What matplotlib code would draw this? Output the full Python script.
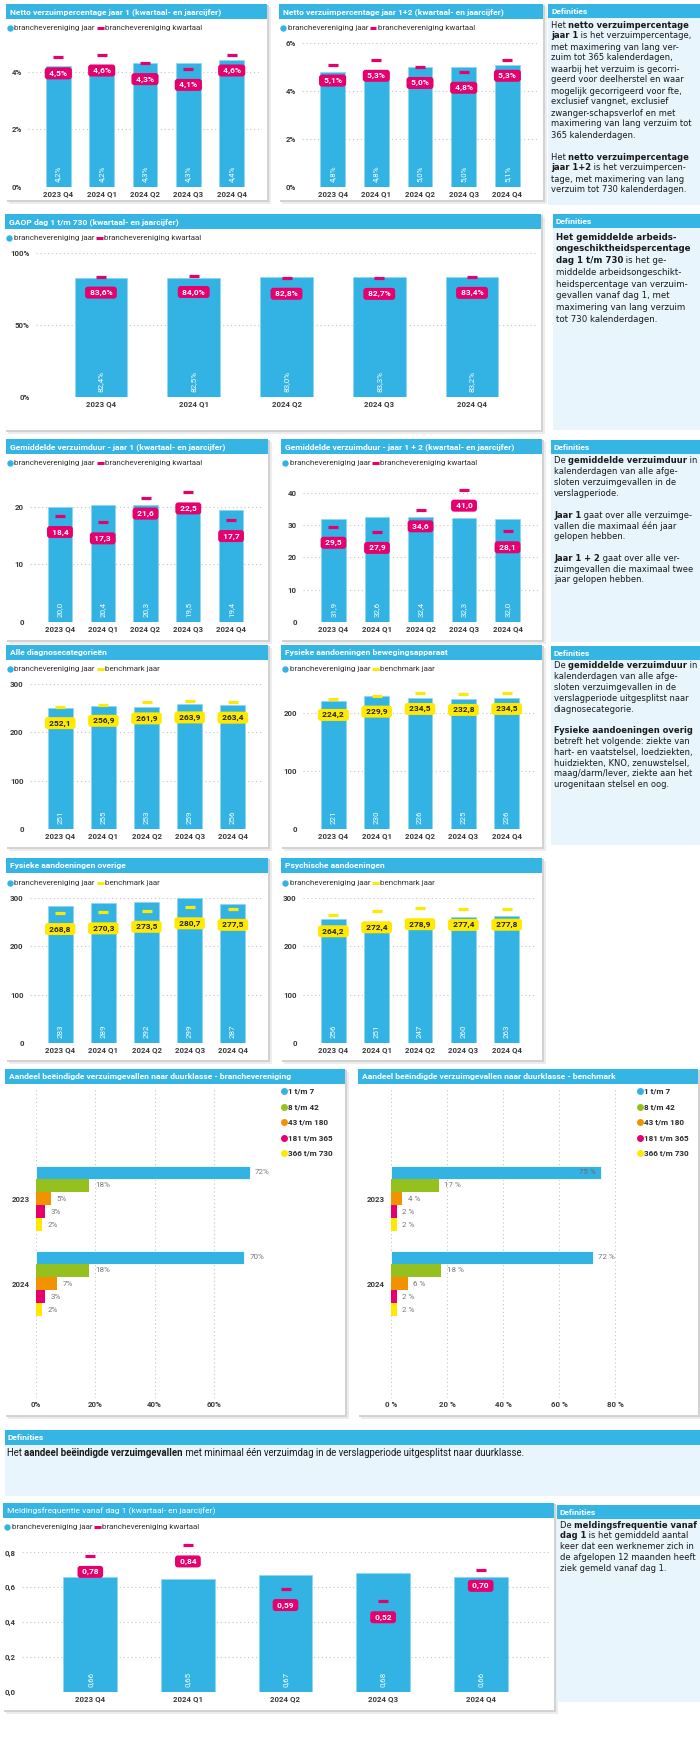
import numpy as np
import matplotlib
matplotlib.use("Agg")
import matplotlib.pyplot as plt
from matplotlib.patches import Rectangle
from matplotlib.lines import Line2D

W, H = 700, 1750
BLUE = "#35b5e4"
BAR = "#33b3e3"
PINK = "#e5006e"
YELLOW = "#ffe900"
GREEN = "#95c11f"
ORANGE = "#f39200"
PANEL_BG = "#e8f5fc"
DARK = "#333333"
GRID = "#c4c4c4"
CHART_FONT = ["Roboto", "DejaVu Sans"]
DEF_FONT = ["DejaVu Sans"]

# --- data ---
quarters = ["2023 Q4", "2024 Q1", "2024 Q2", "2024 Q3", "2024 Q4"]
netto1_jaar = [4.2, 4.2, 4.3, 4.3, 4.4]
netto1_kw = [4.5, 4.6, 4.3, 4.1, 4.6]
netto12_jaar = [4.8, 4.8, 5.0, 5.0, 5.1]
netto12_kw = [5.1, 5.3, 5.0, 4.8, 5.3]
gaop_jaar = [82.4, 82.5, 83.0, 83.3, 83.2]
gaop_kw = [83.6, 84.0, 82.8, 82.7, 83.4]
duur1_jaar = [20.0, 20.4, 20.3, 19.5, 19.4]
duur1_kw = [18.4, 17.3, 21.6, 22.5, 17.7]
duur12_jaar = [31.9, 32.6, 32.4, 32.3, 32.0]
duur12_kw = [29.5, 27.9, 34.6, 41.0, 28.1]
alle_jaar = [251, 255, 253, 259, 256]
alle_bm = [252.1, 256.9, 261.9, 263.9, 263.4]
beweg_jaar = [221, 230, 226, 225, 226]
beweg_bm = [224.2, 229.9, 234.5, 232.8, 234.5]
overig_jaar = [283, 289, 292, 299, 287]
overig_bm = [268.8, 270.3, 273.5, 280.7, 277.5]
psych_jaar = [256, 251, 247, 260, 263]
psych_bm = [264.2, 272.4, 278.9, 277.4, 277.8]
melding_jaar = [0.66, 0.65, 0.67, 0.68, 0.66]
melding_kw = [0.78, 0.84, 0.59, 0.52, 0.70]

duur_classes = ["1 t/m 7", "8 t/m 42", "43 t/m 180", "181 t/m 365", "366 t/m 730"]
duur_colors = [BAR, GREEN, ORANGE, PINK, YELLOW]
years = ["2023", "2024"]
branche_share = [[72, 18, 5, 3, 2], [70, 18, 7, 3, 2]]
bench_share = [[75, 17, 4, 2, 2], [72, 18, 6, 2, 2]]

fig = plt.figure(figsize=(7, 17.5), dpi=100)
fig.patch.set_facecolor("white")
renderer = fig.canvas.get_renderer()


def fx(x):
    return x / W


def fy(y):
    return 1 - y / H


def rect(x0, y0, x1, y1, color, z=-5):
    fig.add_artist(Rectangle((fx(x0), fy(y1)), (x1 - x0) / W, (y1 - y0) / H,
                             transform=fig.transFigure, facecolor=color,
                             edgecolor="none", zorder=z))


def ftext(x, y, s, **kw):
    kw.setdefault("va", "center")
    kw.setdefault("family", CHART_FONT)
    return fig.text(fx(x), fy(y), s, **kw)


def seg_width(s, **kw):
    t1 = fig.text(0, 0, "|" + s + "|", **kw)
    t2 = fig.text(0, 0, "||", **kw)
    w = t1.get_window_extent(renderer).width - t2.get_window_extent(renderer).width
    t1.remove()
    t2.remove()
    return w


def rich_line(x, y, line, size, family):
    for j, seg in enumerate(line.split("*")):
        if not seg:
            continue
        props = dict(fontsize=size, family=family, color="#1a1a1a",
                     weight="bold" if j % 2 else "normal")
        fig.text(fx(x), fy(y), seg, va="center", ha="left", **props)
        x += seg_width(seg, **props)


def panel(x0, y0, x1, y1, title, bold=True):
    rect(x0 + 3, y0 + 3, x1 + 4, y1 + 4, "#ececec", z=-7)
    rect(x0 + 1, y0 + 1, x1 + 2, y1 + 2, "#d2d2d2", z=-6)
    rect(x0, y0, x1, y1, "white", z=-5)
    rect(x0, y0, x1, y0 + 15, BLUE, z=-4)
    ftext(x0 + 4, y0 + 7.8, title, color="white", fontsize=6.1,
          weight="bold" if bold else "normal")


def def_panel(x0, y0, x1, y1, lines, y_first, step, size=6.0, family=DEF_FONT):
    rect(x0, y0, x1, y1, PANEL_BG, z=-5)
    rect(x0, y0, x1, y0 + 14, BLUE, z=-4)
    ftext(x0 + 3, y0 + 7.3, "Definities", color="white", fontsize=6.1, weight="bold")
    for k, line in enumerate(lines):
        rich_line(x0 + 3, y_first + k * step, line, size, family)


def legend(x, y, items):
    for lab, col, kind in items:
        if kind == "dot":
            fig.add_artist(Line2D([fx(x + 3)], [fy(y)], marker="o", ms=4.6, color=col,
                                  mec="none", transform=fig.transFigure))
        else:
            fig.add_artist(Line2D([fx(x), fx(x + 6.5)], [fy(y), fy(y)], lw=2.2, color=col,
                                  solid_capstyle="butt", transform=fig.transFigure))
        x += 7.5
        ftext(x, y, lab, color=DARK, fontsize=5.8)
        x += seg_width(lab, fontsize=5.8, family=CHART_FONT) + 2


def bar_chart(box, jaar, ref, ylim, ticks, ticklabels, bar_fmt, ref_fmt,
              ref_color=PINK, box_text="white", bw=0.57):
    x0, y0, x1, y1 = box
    ax = fig.add_axes([fx(x0), fy(y1), (x1 - x0) / W, (y1 - y0) / H])
    ax.set_facecolor("none")
    xs = np.arange(len(quarters))
    ax.bar(xs, jaar, width=bw, color=BAR, edgecolor="#8fd6f2", linewidth=0.5, zorder=2)
    ax.plot(xs, ref, ls="none", marker="_", ms=7.5, mew=2.3, color=ref_color, zorder=3)
    for i, v in enumerate(jaar):
        ax.annotate(bar_fmt(v), (i, 0), xytext=(0, 3.5), textcoords="offset points",
                    rotation=90, ha="center", va="bottom", color="white",
                    fontsize=5.8, family=CHART_FONT, zorder=4)
    for i, v in enumerate(ref):
        ax.annotate(" " + ref_fmt(v) + " ", (i, v), xytext=(0, -11.5),
                    textcoords="offset points", ha="center", va="center",
                    color=box_text, fontsize=6, weight="bold", family=CHART_FONT,
                    bbox=dict(boxstyle="round,pad=0.3,rounding_size=0.35",
                              fc=ref_color, ec="none"), zorder=5)
    ax.set_xlim(-0.7, 4.7)
    ax.set_ylim(*ylim)
    ax.set_yticks(ticks)
    ax.set_yticklabels(ticklabels)
    ax.set_xticks(xs)
    ax.set_xticklabels(quarters)
    for s in ax.spines.values():
        s.set_visible(False)
    ax.tick_params(axis="x", length=0, pad=2.5)
    ax.tick_params(axis="y", length=0, pad=4.5)
    for lab in ax.get_xticklabels() + ax.get_yticklabels():
        lab.set_family(CHART_FONT)
        lab.set_fontsize(5.7)
        lab.set_weight("bold")
        lab.set_color("#3a3a3a")
    ax.yaxis.grid(True, ls=(0, (1, 2.5)), color=GRID, lw=0.8)
    ax.set_axisbelow(True)
    return ax


def pct1(v):
    return f"{v:.1f}%".replace(".", ",")


def dec1(v):
    return f"{v:.1f}".replace(".", ",")


def dec2(v):
    return f"{v:.2f}".replace(".", ",")


def int0(v):
    return f"{v:.0f}"


leg_kw = [("branchevereniging jaar", BAR, "dot"), ("branchevereniging kwartaal", PINK, "dash")]
leg_bm = [("branchevereniging jaar", BAR, "dot"), ("benchmark jaar", YELLOW, "dash")]

# --- row 1 ---
panel(6, 4, 267, 200, "Netto verzuimpercentage jaar 1 (kwartaal- en jaarcijfer)")
legend(7, 28, leg_kw)
bar_chart((28, 43, 262, 187), netto1_jaar, netto1_kw, (0, 5), [0, 2, 4],
          ["0%", "2%", "4%"], pct1, pct1)

panel(279, 4, 543, 200, "Netto verzuimpercentage jaar 1+2 (kwartaal- en jaarcijfer)")
legend(280, 28, leg_kw)
bar_chart((302, 43, 538, 187), netto12_jaar, netto12_kw, (0, 6), [0, 2, 4, 6],
          ["0%", "2%", "4%", "6%"], pct1, pct1)

def_panel(548, 4, 700, 205, [
    "Het *netto verzuimpercentage*",
    "*jaar 1* is het verzuimpercentage,",
    "met maximering van lang ver-",
    "zuim tot 365 kalenderdagen,",
    "waarbij het verzuim is gecorri-",
    "geerd voor deelherstel en waar",
    "mogelijk gecorrigeerd voor fte,",
    "exclusief vangnet, exclusief",
    "zwanger-schapsverlof en met",
    "maximering van lang verzuim tot",
    "365 kalenderdagen.",
    "",
    "Het *netto verzuimpercentage*",
    "*jaar 1+2* is het verzuimpercen-",
    "tage, met maximering van lang",
    "verzuim tot 730 kalenderdagen.",
], 25, 11.0)

# --- row 2 ---
panel(5, 214, 541, 430, "GAOP dag 1 t/m 730 (kwartaal- en jaarcijfer)")
legend(6, 238, leg_kw)
bar_chart((36, 253, 537, 397), gaop_jaar, gaop_kw, (0, 100), [0, 50, 100],
          ["0%", "50%", "100%"], pct1, pct1)

def_panel(553, 214, 700, 430, [
    "*Het gemiddelde arbeids-*",
    "*ongeschiktheidspercentage*",
    "*dag 1 t/m 730* is het ge-",
    "middelde arbeidsongeschikt-",
    "heidspercentage van verzuim-",
    "gevallen vanaf dag 1, met",
    "maximering van lang verzuim",
    "tot 730 kalenderdagen.",
], 237, 11.8, size=6.2)

# --- row 3 ---
panel(6, 439, 268, 640, "Gemiddelde verzuimduur - jaar 1 (kwartaal- en jaarcijfer)")
legend(7, 463, leg_kw)
bar_chart((30, 470, 261, 622), duur1_jaar, duur1_kw, (0, 26.4), [0, 10, 20],
          ["0", "10", "20"], dec1, dec1)

panel(281, 439, 542, 640, "Gemiddelde verzuimduur - jaar 1 + 2 (kwartaal- en jaarcijfer)")
legend(282, 463, leg_kw)
bar_chart((303, 470, 538, 622), duur12_jaar, duur12_kw, (0, 47.1), [0, 10, 20, 30, 40],
          ["0", "10", "20", "30", "40"], dec1, dec1)

def_panel(551, 440, 700, 642, [
    "De *gemiddelde verzuimduur* in",
    "kalenderdagen van alle afge-",
    "sloten verzuimgevallen in de",
    "verslagperiode.",
    "",
    "*Jaar 1* gaat over alle verzuimge-",
    "vallen die maximaal één jaar",
    "gelopen hebben.",
    "",
    "*Jaar 1 + 2* gaat over alle ver-",
    "zuimgevallen die maximaal twee",
    "jaar gelopen hebben.",
], 461, 10.8)

# --- row 4 ---
panel(6, 645, 268, 847, "Alle diagnosecategorieën")
legend(7, 669, leg_bm)
bar_chart((30, 684, 263, 829), alle_jaar, alle_bm, (0, 300), [0, 100, 200, 300],
          ["0", "100", "200", "300"], int0, dec1, ref_color=YELLOW, box_text="#222222")

panel(281, 645, 542, 847, "Fysieke aandoeningen bewegingsapparaat")
legend(282, 669, leg_bm)
bar_chart((303, 684, 537, 829), beweg_jaar, beweg_bm, (0, 250), [0, 100, 200],
          ["0", "100", "200"], int0, dec1, ref_color=YELLOW, box_text="#222222")

def_panel(551, 646, 700, 845, [
    "De *gemiddelde verzuimduur* in",
    "kalenderdagen van alle afge-",
    "sloten verzuimgevallen in de",
    "verslagperiode uitgesplitst naar",
    "diagnosecategorie.",
    "",
    "*Fysieke aandoeningen overig*",
    "betreft het volgende: ziekte van",
    "hart- en vaatstelsel, loedziekten,",
    "huidziekten, KNO, zenuwstelsel,",
    "maag/darm/lever, ziekte aan het",
    "urogenitaan stelsel en oog.",
], 666, 10.8)

# --- row 5 ---
panel(6, 858, 268, 1060, "Fysieke aandoeningen overige")
legend(7, 883, leg_bm)
bar_chart((30, 898, 263, 1043), overig_jaar, overig_bm, (0, 300), [0, 100, 200, 300],
          ["0", "100", "200", "300"], int0, dec1, ref_color=YELLOW, box_text="#222222")

panel(281, 858, 542, 1060, "Psychische aandoeningen")
legend(282, 883, leg_bm)
bar_chart((303, 898, 537, 1043), psych_jaar, psych_bm, (0, 300), [0, 100, 200, 300],
          ["0", "100", "200", "300"], int0, dec1, ref_color=YELLOW, box_text="#222222")


# --- row 6: duurklasse ---
def duur_chart(box, shares, xmax, ticks, sep, leg_x, inside_from):
    x0, y0, x1, y1 = box
    ax = fig.add_axes([fx(x0), fy(y1), (x1 - x0) / W, (y1 - y0) / H])
    ax.set_facecolor("none")
    h = 0.153
    for g, row in enumerate(shares):
        for k, v in enumerate(row):
            y = g + (k - 2) * h
            ax.barh(y, v, height=h, color=duur_colors[k], edgecolor="white" if k == 0 else "none",
                    linewidth=0.6, zorder=2)
            lab = f"{v}{sep}%"
            if v >= inside_from:
                ax.annotate(lab, (v, y), xytext=(-4, 0), textcoords="offset points",
                            ha="right", va="center", fontsize=5.8, color="#6a6a6a",
                            family=CHART_FONT, zorder=3)
            else:
                ax.annotate(lab, (v, y), xytext=(4, 0), textcoords="offset points",
                            ha="left", va="center", fontsize=5.8, color="#777777",
                            family=CHART_FONT, zorder=3, annotation_clip=False)
    ax.set_xlim(0, xmax)
    ax.set_ylim(2.347, -1.3)
    ax.set_xticks(ticks)
    ax.set_xticklabels([f"{t}{sep}%" for t in ticks])
    ax.set_yticks([0, 1])
    ax.set_yticklabels(years)
    for s in ax.spines.values():
        s.set_visible(False)
    ax.tick_params(axis="x", length=0, pad=2)
    ax.tick_params(axis="y", length=0, pad=4.5)
    for lab in ax.get_xticklabels() + ax.get_yticklabels():
        lab.set_family(CHART_FONT)
        lab.set_fontsize(5.7)
        lab.set_weight("bold")
        lab.set_color("#3a3a3a")
    ax.xaxis.grid(True, ls=(0, (1, 2.5)), color=GRID, lw=0.8)
    ax.set_axisbelow(True)
    for k, (name, col) in enumerate(zip(duur_classes, duur_colors)):
        y = 1091 + 15.6 * k
        fig.add_artist(Line2D([fx(leg_x)], [fy(y)], marker="o", ms=5, color=col,
                              mec="none", transform=fig.transFigure))
        ftext(leg_x + 3.5, y, name, color="#2a2a2a", fontsize=5.9, weight="bold")


panel(5, 1069, 345, 1415, "Aandeel beëindigde verzuimgevallen naar duurklasse - branchevereniging")
duur_chart((36, 1088, 261.5, 1398), branche_share, 76, [0, 20, 40, 60], "", 284, 100)

panel(358, 1069, 698, 1415, "Aandeel beëindigde verzuimgevallen naar duurklasse - benchmark")
duur_chart((391, 1088, 620.6, 1398), bench_share, 82, [0, 20, 40, 60, 80], " ", 640, 74)

# --- definitions bar ---
rect(5, 1430, 700, 1496, PANEL_BG, z=-5)
rect(5, 1430, 700, 1445, BLUE, z=-4)
ftext(8, 1437.8, "Definities", color="white", fontsize=6.1, weight="bold")
rich_line(7, 1453, "Het *aandeel beëindigde verzuimgevallen* met minimaal één verzuimdag in de "
          "verslagperiode uitgesplitst naar duurklasse.", 6.9, CHART_FONT)

# --- meldingsfrequentie ---
panel(3, 1503, 554, 1710, "Meldingsfrequentie vanaf dag 1 (kwartaal- en jaarcijfer)", bold=False)
legend(4, 1527, leg_kw)
bar_chart((22, 1535, 549, 1692), melding_jaar, melding_kw, (0, 0.9),
          [0, 0.2, 0.4, 0.6, 0.8], ["0,0", "0,2", "0,4", "0,6", "0,8"], dec2, dec2, bw=0.55)

def_panel(557, 1505, 700, 1702, [
    "De *meldingsfrequentie vanaf*",
    "*dag 1* is het gemiddeld aantal",
    "keer dat een werknemer zich in",
    "de afgelopen 12 maanden heeft",
    "ziek gemeld vanaf dag 1.",
], 1525, 10.8)

fig.savefig("out.png", dpi=100, facecolor="white")
